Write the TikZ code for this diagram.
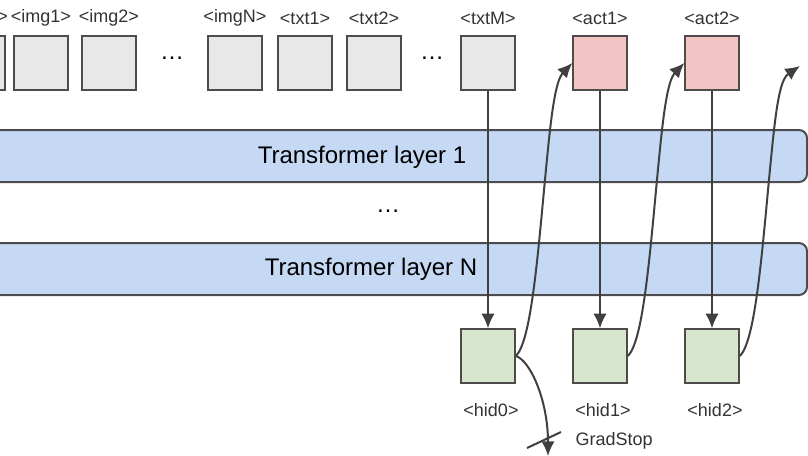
\documentclass[tikz,border=0pt]{standalone}
\usepackage{fontspec}
\setmainfont{Liberation Sans}
\usetikzlibrary{arrows.meta}
\begin{document}
\begin{tikzpicture}[x=0.75pt,y=-0.75pt,
  box/.style={draw=black!70,line width=1.5pt,minimum size=40pt,inner sep=0pt},
  inp/.style={box,fill=black!9},
  act/.style={box,fill={rgb,255:red,242;green,196;blue,196}},
  hid/.style={box,fill={rgb,255:red,214;green,231;blue,205}},
  layer/.style={draw=black!70,line width=1.5pt,rounded corners=6pt,fill={rgb,255:red,197;green,216;blue,244}},
  lbl/.style={font=\fontsize{13.5}{15}\selectfont,text=black!80},
  big/.style={font=\fontsize{18}{21}\selectfont},
  ln/.style={draw=black!75,line width=1.5pt},
  arr/.style={ln,-{Latex[length=11pt,width=10pt]}}]
\useasboundingbox (0,0) rectangle (808,455);
% layers
\draw[layer] (-20,130) rectangle (807,182);
\node[big] (l1) at (362,157) {Transformer layer 1};
\node[big] (dd) at (388,211) {\dots};
\draw[layer] (-20,243) rectangle (807,295);
\node[big] (ln) at (371,269) {Transformer layer N};
% top row
\node[inp] (i0) at (-22,63) {};
\node[lbl] at (-22,18) {<img0>};
\foreach \n/\x/\t in {i1/41/img1,i2/109/img2,iN/235/imgN,t1/305/txt1,t2/374/txt2,tM/488/txtM}{
  \node[inp] (\n) at (\x,63) {};
  \node[lbl] (\n l) at (\x,18) {<\t>};
}
\node[big] (d1) at (172,58) {\dots};
\node[big] (d2) at (432,58) {\dots};
\node[act] (a1) at (600,63) {};
\node[lbl] (a1l) at (600,18) {<act1>};
\node[act] (a2) at (712,63) {};
\node[lbl] (a2l) at (712,18) {<act2>};
% hid
\node[hid] (h0) at (488,356) {};
\node[hid] (h1) at (600,356) {};
\node[hid] (h2) at (712,356) {};
\node[lbl] (h0l) at (491,410) {<hid0>};
\node[lbl] (h1l) at (603,410) {<hid1>};
\node[lbl] (h2l) at (715,410) {<hid2>};
% verticals
\draw[arr] (tM.south) -- (h0.north);
\draw[arr] (a1.south) -- (h1.north);
\draw[arr] (a2.south) -- (h2.north);
% recurrent curves
\coordinate (e3) at (800,66);
\draw[arr] (h0.east) .. controls (534,340) and (540,220) .. (550,130) .. controls (554,95) and (558,78) .. (a1.west);
\draw[arr] (h1.east) .. controls (646,340) and (652,220) .. (662,130) .. controls (666,95) and (670,78) .. (a2.west);
\draw[arr] (h2.east) .. controls (758,340) and (764,220) .. (774,130) .. controls (778,95) and (782,78) .. (e3);
% gradstop
\coordinate (gs) at (548,456);
\draw[arr] (h0.east) .. controls (530,360) and (548,400) .. (gs);
\coordinate (ta) at (527,448);
\coordinate (tb) at (561,432);
\draw[ln] (ta) -- (tb);
\node[lbl,anchor=west] (gst) at (571,441) {GradStop};
\end{tikzpicture}
\end{document}
